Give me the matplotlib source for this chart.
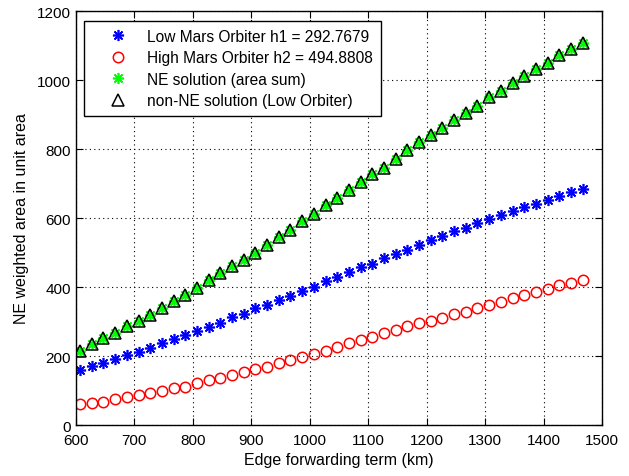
import matplotlib
matplotlib.use("Agg")
import matplotlib.pyplot as plt

plt.rcParams['font.family'] = ['Liberation Sans', 'DejaVu Sans']
plt.rcParams['font.size'] = 11

# Edge forwarding term (km), one point every 20 km
x_km = [607, 627, 647, 667, 687, 707, 727, 747, 767, 787, 807,
        827, 847, 867, 887, 907, 927, 947, 967, 987, 1007,
        1027, 1047, 1067, 1087, 1107, 1127, 1147, 1167, 1187, 1207,
        1227, 1247, 1267, 1287, 1307, 1327, 1347, 1367, 1387, 1407,
        1427, 1447, 1467]

# values
low_orbiter = [159, 172, 181, 190, 202, 213, 224, 238, 248, 260, 273,
               285, 297, 312, 322, 339, 349, 362, 374, 389, 400,
               417, 429, 444, 458, 466, 484, 495, 507, 522, 536,
               547, 561, 571, 585, 596, 609, 621, 631, 642, 653,
               663, 674, 684]
high_orbiter = [60, 63, 68, 75, 81, 86, 93, 99, 106, 111, 123,
                130, 137, 144, 154, 162, 169, 179, 187, 198, 207,
                215, 227, 237, 247, 256, 266, 276, 287, 296, 302,
                310, 323, 329, 339, 349, 358, 368, 377, 386, 394,
                405, 412, 420]
ne_sum = [215, 235, 252, 266, 286, 302, 320, 339, 359, 378, 398,
          419, 440, 461, 478, 500, 521, 545, 566, 591, 612,
          637, 657, 682, 703, 729, 746, 772, 798, 819, 841,
          862, 883, 904, 926, 951, 967, 990, 1012, 1033, 1049,
          1072, 1090, 1107]
non_ne_low = list(ne_sum)

labels = ["Low Mars Orbiter h1 = 292.7679",
          "High Mars Orbiter h2 = 494.8808",
          "NE solution (area sum)",
          "non-NE solution (Low Orbiter)"]

fig = plt.figure(figsize=(6.29, 4.77), dpi=100)
ax = fig.add_axes([0.1208, 0.1069, 0.8362, 0.8679])

star = (8, 2, 0)
ax.plot(x_km, low_orbiter, linestyle='none', marker=star, markersize=8,
        markeredgewidth=1.2, color='blue', label=labels[0])
ax.plot(x_km, high_orbiter, linestyle='none', marker='o', markersize=7.5,
        markerfacecolor='none', markeredgecolor='red', markeredgewidth=1.1,
        label=labels[1])
ax.plot(x_km, ne_sum, linestyle='none', marker=star, markersize=8,
        markeredgewidth=1.2, color=(0, 1, 0), label=labels[2])
ax.plot(x_km, non_ne_low, linestyle='none', marker='^', markersize=8,
        markerfacecolor='none', markeredgecolor='black', markeredgewidth=1.1,
        label=labels[3])

ax.set_xlim(600, 1500)
ax.set_ylim(0, 1200)
ax.set_xticks(range(600, 1501, 100))
ax.set_yticks(range(0, 1201, 200))
ax.grid(True, color='black', linestyle=(0, (1, 3)), linewidth=0.8)
ax.tick_params(direction='in', length=5, top=True, right=True, labelsize=11)
ax.tick_params(axis='x', pad=6)
for s in ax.spines.values():
    s.set_linewidth(1.0)

ax.set_xlabel("Edge forwarding term (km)", fontsize=11.5, labelpad=3)
ax.set_ylabel("NE weighted area in unit area", fontsize=11.5, labelpad=6)

leg = ax.legend(loc='upper left', bbox_to_anchor=(0.0152, 0.9758),
                borderaxespad=0, fancybox=False, framealpha=1,
                edgecolor='black', fontsize=11.2, handlelength=3.4,
                handletextpad=0.15, labelspacing=0.42, borderpad=0.5)
leg.get_frame().set_linewidth(1.0)

fig.savefig("out.png", dpi=100)
